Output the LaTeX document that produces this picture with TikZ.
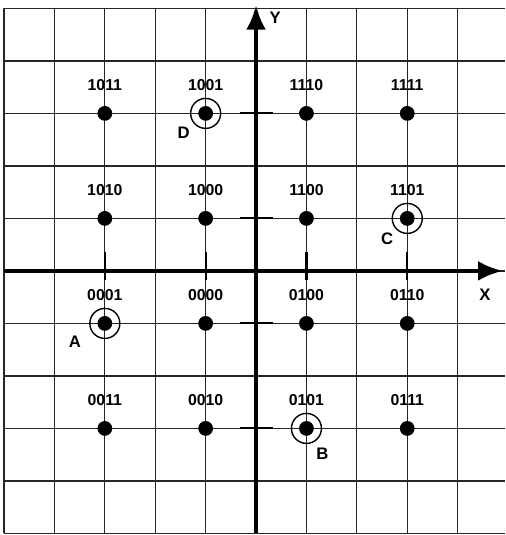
\documentclass[tikz,border=0pt]{standalone}
\usepackage{fontspec}
\setmainfont{Liberation Sans}
\usetikzlibrary{arrows.meta,positioning}
\tikzset{
  gridline/.style={line width=0.7pt, black!85, xstep=1.008cm, ystep=1.05cm},
  axisline/.style={line width=2.6pt, -{Latex[length=0.5cm, width=0.4cm]}},
  tickmark/.style={line width=1.2pt},
  symdot/.style={draw, circle, fill=black, minimum size=0.28cm, inner sep=0pt},
  ringmark/.style={draw, circle, line width=0.8pt, minimum size=0.6cm, inner sep=0pt},
  codelbl/.style={font=\fontsize{9}{10}\selectfont\bfseries, inner sep=0pt},
  pointlbl/.style={font=\fontsize{9.5}{10}\selectfont\bfseries, inner sep=0pt},
}

\begin{document}
\begin{tikzpicture}[>=Latex, x=1.008cm, y=1.05cm]
  \useasboundingbox (-5.08,-5.03) rectangle (4.94,5.16);
  \draw[gridline] (-5,-5) grid (4.94,5);

  % axes
  \coordinate (xs) at (-5,0);
  \coordinate (xe) at (4.9,0);
  \coordinate (ys) at (0,-5);
  \coordinate (ye) at (0,5.07);
  \draw[axisline] (xs) -- (xe);
  \draw[axisline] (ys) -- (ye);
  \node[pointlbl] (xlbl) at (4.54,-0.46) {X};
  \node[pointlbl] (ylbl) at (0.38,4.82) {Y};

  \foreach \v in {-3,-1,1,3} {
    \draw[tickmark] (\v,-0.18) -- (\v,0.36);
    \draw[tickmark] (-0.32,\v) -- (0.33,\v);
  }

  % signal points
  \foreach \c/\x/\y in {1011/-3/3, 1001/-1/3, 1110/1/3, 1111/3/3,
                        1010/-3/1, 1000/-1/1, 1100/1/1, 1101/3/1,
                        0001/-3/-1, 0000/-1/-1, 0100/1/-1, 0110/3/-1,
                        0011/-3/-3, 0010/-1/-3, 0101/1/-3, 0111/3/-3} {
    \node[symdot] (p\c) at (\x,\y) {};
    \node[codelbl, above=0.3cm of p\c] (l\c) {\c};
  }

  % marked points
  \node[ringmark] (ringA) at (p0001) {};
  \node[ringmark] (ringB) at (p0101) {};
  \node[ringmark] (ringC) at (p1101) {};
  \node[ringmark] (ringD) at (p1001) {};
  \node[pointlbl] (lblA) at ([shift={(-0.6cm,-0.36cm)}]p0001) {A};
  \node[pointlbl] (lblB) at ([shift={(0.32cm,-0.5cm)}]p0101) {B};
  \node[pointlbl] (lblC) at ([shift={(-0.4cm,-0.4cm)}]p1101) {C};
  \node[pointlbl] (lblD) at ([shift={(-0.44cm,-0.38cm)}]p1001) {D};
\end{tikzpicture}
\end{document}
